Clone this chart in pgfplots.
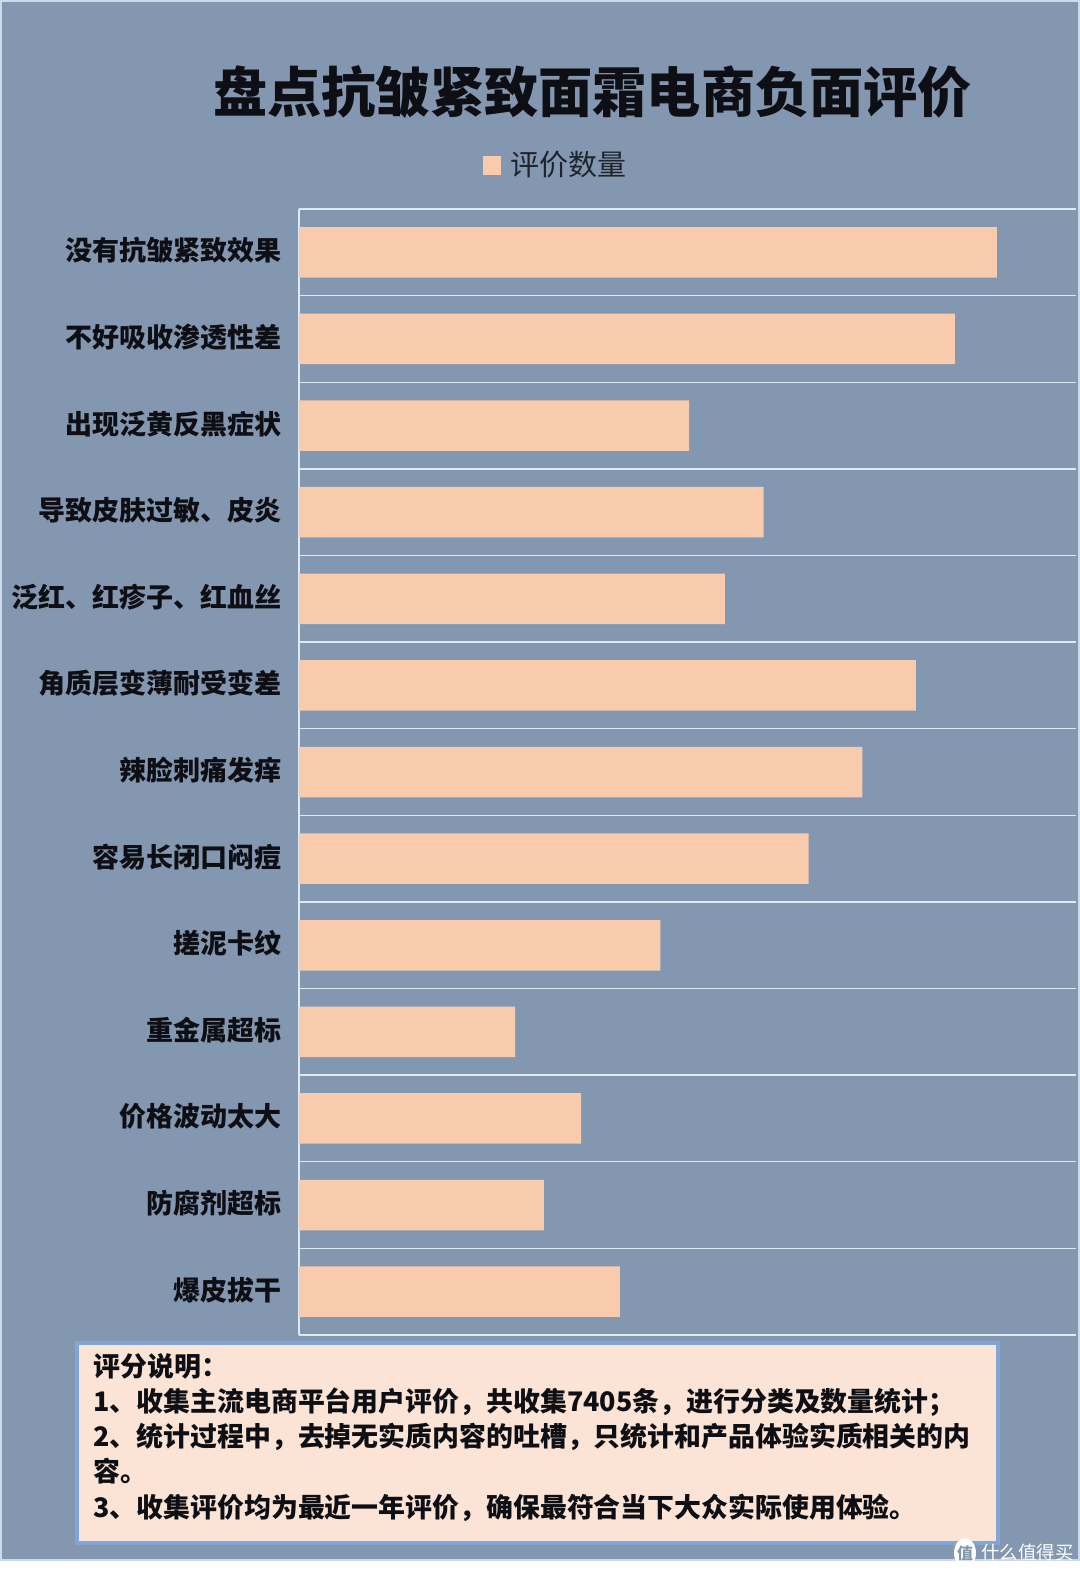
\documentclass[border=0pt]{standalone}
\usepackage{fontspec}
\setmainfont{Noto Sans CJK SC}
\usepackage{pgfplots}
\pgfplotsset{compat=1.18}
\definecolor{bgblue}{HTML}{8497B0}
\definecolor{barpeach}{HTML}{F8CBAD}
\definecolor{gridpale}{HTML}{DEEBF7}
\definecolor{boxfill}{HTML}{FBE4D5}
\definecolor{boxedge}{HTML}{7FA6D6}
\definecolor{ink}{HTML}{0E0F14}
\begin{document}
% 1 px of the reference = 0.5pt, y runs downward from the top left
\begin{tikzpicture}[x=0.5pt,y=-0.5pt]
\path[use as bounding box] (0,0) rectangle (1080,1575);
\fill[white] (0,0) rectangle (1080,1575);
\filldraw[fill=bgblue,draw=gridpale!80!bgblue,line width=0.9pt] (1,1) rectangle (1079,1560);

\begin{axis}[
    at={(149.5pt,-667.5pt)},
    anchor=south west,
    scale only axis,
    width=388.5pt,
    height=563pt,
    xbar,
    bar width=25.25pt,
    bar shift=0pt,
    y dir=reverse,
    xmin=0, xmax=1000,
    ymin=-0.5, ymax=12.5,
    axis x line=none,
    axis y line*=left,
    axis line style={draw=gridpale,line width=0.7pt,-},
    ytick={0,1,...,12},
    yticklabels={没有抗皱紧致效果,不好吸收渗透性差,出现泛黄反黑症状,导致皮肤过敏、皮炎,泛红、红疹子、红血丝,角质层变薄耐受变差,辣脸刺痛发痒,容易长闭口闷痘,搓泥卡纹,重金属超标,价格波动太大,防腐剂超标,爆皮拔干},
    minor ytick={-0.5,0.5,1.5,2.5,3.5,4.5,5.5,6.5,7.5,8.5,9.5,10.5,11.5,12.5},
    minor y grid style={draw=gridpale,line width=0.7pt},
    yminorgrids=true,
    major tick length=0pt,
    minor tick length=0pt,
    yticklabel style={font=\bfseries\fontsize{13.5}{15}\selectfont,text=ink,inner sep=0pt,xshift=-8.5pt,yshift=0.9pt},
    title={\bfseries\fontsize{27.1}{30}\selectfont 盘点抗皱紧致面霜电商负面评价},
    title style={at={(0.378,1.0935)},anchor=center,text=ink,inner sep=0pt},
    legend style={at={(0.3315,1.039)},anchor=center,draw=none,fill=none,
        font=\fontsize{14.5}{17}\selectfont,text=ink!85!bgblue,inner sep=0pt},
    legend image code/.code={\path (0pt,0pt) rectangle (11.9pt,0pt);\fill[barpeach] (0pt,-4.7pt) rectangle (9.4pt,4.7pt);},
    legend cell align=left,
]
\addplot[fill=barpeach,draw=none] coordinates {
    (898,0) (844,1) (502,2) (598,3) (548,4) (794,5) (725,6)
    (656,7) (465,8) (278,9) (363,10) (315,11) (413,12)
};
\legend{评价数量}
\end{axis}

% note box
\filldraw[fill=boxfill,draw=boxedge,line width=2pt] (77,1343) rectangle (998,1543);
\node[anchor=north west,inner sep=0pt,text=ink,align=left,
      font=\bfseries\fontsize{13.45}{17.6}\selectfont] at (93,1353) {%
评分说明：\\
1、收集主流电商平台用户评价，共收集7405条，进行分类及数量统计；\\
2、统计过程中，去掉无实质内容的吐槽，只统计和产品体验实质相关的内\\
容。\\
3、收集评价均为最近一年评价，确保最符合当下大众实际使用体验。};

% watermark
\fill[white] (965,1553) ellipse (11 and 15);
\node[text=bgblue,inner sep=0pt,font=\bfseries\fontsize{8}{9}\selectfont] at (965,1553) {值};
\node[anchor=west,text=white,inner sep=0pt,font=\fontsize{9.2}{10}\selectfont] at (981,1553) {什么值得买};
\end{tikzpicture}
\end{document}
